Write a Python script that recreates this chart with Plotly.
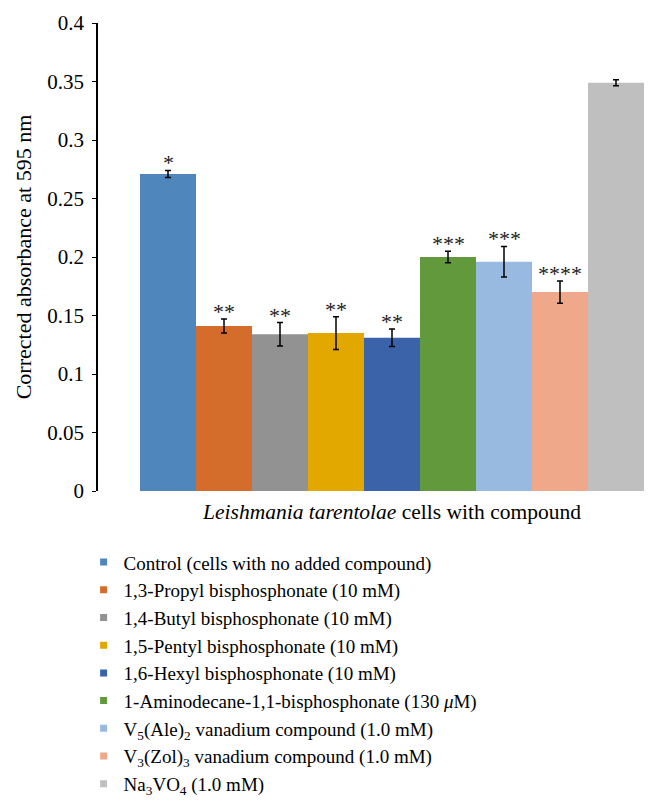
import plotly.graph_objects as go

# compounds in legend order
names = [
    "Control (cells with no added compound)",
    "1,3-Propyl bisphosphonate (10 mM)",
    "1,4-Butyl bisphosphonate (10 mM)",
    "1,5-Pentyl bisphosphonate (10 mM)",
    "1,6-Hexyl bisphosphonate (10 mM)",
    "1-Aminodecane-1,1-bisphosphonate (130 <i>μ</i>M)",
    "V<sub>5</sub>(Ale)<sub>2</sub> vanadium compound (1.0 mM)",
    "V<sub>3</sub>(Zol)<sub>3</sub> vanadium compound (1.0 mM)",
    "Na<sub>3</sub>VO<sub>4</sub> (1.0 mM)",
]
absorbance = [0.271, 0.141, 0.134, 0.135, 0.131, 0.200, 0.196, 0.170, 0.349]
errors = [0.003, 0.006, 0.010, 0.014, 0.0075, 0.005, 0.013, 0.0095, 0.0026]
stars = ["*", "**", "**", "**", "**", "***", "***", "****", ""]
colors = ["#4F87BD", "#D46D2B", "#929292", "#E2A800", "#3B63AA",
          "#63993D", "#98B9E0", "#EFA98A", "#BFBFBF"]

category = "<i>Leishmania tarentolae</i> cells with compound"
y_ticks = [0, 0.05, 0.1, 0.15, 0.2, 0.25, 0.3, 0.35, 0.4]
y_ticktext = ["0", "0.05", "0.1", "0.15", "0.2", "0.25", "0.3", "0.35", "0.4"]

FONT = "Liberation Serif, Times New Roman, serif"

fig = go.Figure()
for i, (n, v, e, c) in enumerate(zip(names, absorbance, errors, colors)):
    fig.add_trace(go.Bar(
        x=[i], y=[v], width=1, marker=dict(color=c, line=dict(width=0)),
        error_y=dict(type="data", array=[e], color="black", thickness=1.5, width=3),
        showlegend=False, hoverinfo="y",
    ))
    # legend swatch (small square like the original)
    fig.add_trace(go.Scatter(
        x=[None], y=[None], mode="markers", name=n,
        marker=dict(symbol="square", size=7, color=c),
    ))
    if stars[i]:
        fig.add_annotation(
            x=i, y=v + e, text=stars[i], showarrow=False,
            yanchor="bottom", yshift=-7,
            font=dict(family=FONT, size=22, color="#222"),
        )

# page body adds 8px, so the figure is 8px smaller than the window
fig.update_layout(
    width=650, height=801,
    margin=dict(l=90, r=0, t=15, b=318),
    paper_bgcolor="white", plot_bgcolor="white",
    font=dict(family=FONT, size=20, color="black"),
    barmode="overlay",
    legend=dict(x=-0.0257, y=-0.1116, xanchor="left", yanchor="top",
                font=dict(family=FONT, size=19), itemwidth=30,
                tracegroupgap=0),
)
fig.update_xaxes(
    range=[-1.25, 8.75], tickvals=[4], ticktext=[category],
    showgrid=False, zeroline=False, showline=False, ticks="",
    ticklabelstandoff=5,
    tickfont=dict(family=FONT, size=21.5, color="black"),
)
fig.update_yaxes(
    range=[0, 0.4], tickvals=y_ticks, ticktext=y_ticktext,
    showgrid=False, zeroline=False, showline=True, linecolor="black",
    linewidth=1.5, ticks="outside", ticklen=4, tickcolor="black",
    ticklabelstandoff=4,
    title=dict(text="Corrected absorbance at 595 nm", standoff=10,
               font=dict(family=FONT, size=22, color="black")),
    tickfont=dict(family=FONT, size=21, color="black"),
)

fig.write_html("out.html")
